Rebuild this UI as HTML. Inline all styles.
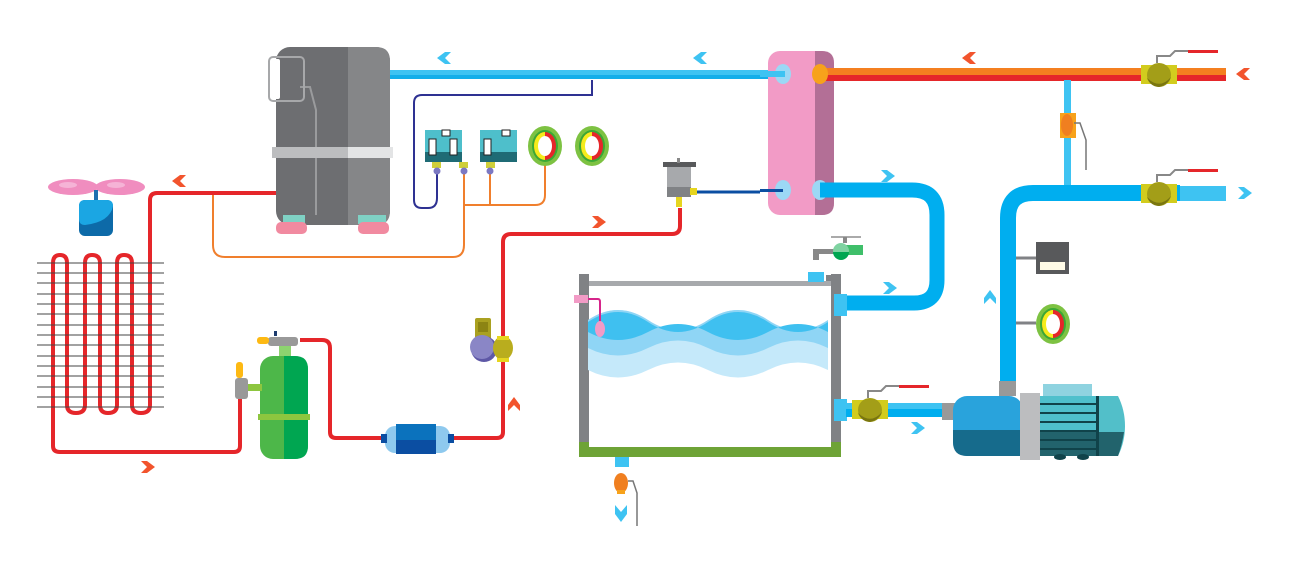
<!DOCTYPE html>
<html><head><meta charset="utf-8"><style>html,body{margin:0;padding:0;background:#fff}svg{display:block}</style></head>
<body>
<svg width="1292" height="576" viewBox="0 0 1292 576" xmlns="http://www.w3.org/2000/svg">
<defs>
<g id="chev"><path d="M0 0 L8 -6 L14 -6 L8 0 L14 6 L8 6 Z"/></g>
</defs>
<!-- top cold pipe -->
<rect x="388" y="70" width="397" height="9" fill="#3ec3f2"/>
<rect x="388" y="75" width="397" height="4" fill="#13aee9"/>
<!-- navy control line -->
<path d="M592 80 V95 H422 Q414 95 414 103 V200 Q414 208 422 208 H428 Q437 208 437 198 V170" fill="none" stroke="#2e3192" stroke-width="2"/>
<!-- orange control lines -->
<path d="M213 193 V245 Q213 257 225 257 H453 Q464 257 464 245 V170" fill="none" stroke="#f07f2d" stroke-width="2"/>
<path d="M464 205 H535 Q545 205 545 195 V165 M490 170 V205" fill="none" stroke="#f07f2d" stroke-width="2"/>
<!-- compressor -->
<rect x="276" y="47" width="114" height="178" rx="14" fill="#6d6e71"/>
<path d="M348 47 H376 Q390 47 390 61 V211 Q390 225 376 225 H348 Z" fill="#858688"/>
<path d="M300 87 H310 L316 110 V215" fill="none" stroke="#9a9b9d" stroke-width="2"/>
<rect x="269" y="57" width="35" height="44" rx="4" fill="none" stroke="#a7a8aa" stroke-width="2"/>
<rect x="271" y="59" width="9" height="40" rx="2" fill="#fff"/>
<rect x="272" y="147" width="76" height="11" fill="#bcbdbf"/>
<rect x="348" y="147" width="45" height="11" fill="#e3e4e5"/>
<rect x="283" y="215" width="22" height="9" fill="#7fd1c4"/><rect x="358" y="215" width="28" height="9" fill="#7fd1c4"/>
<rect x="276" y="222" width="31" height="12" rx="5" fill="#f18aa0"/><rect x="358" y="222" width="31" height="12" rx="5" fill="#f18aa0"/>
<!-- switches -->
<g>
<rect x="425" y="130" width="37" height="32" fill="#4ebfcb"/><rect x="425" y="152" width="37" height="10" fill="#1f6b75"/>
<rect x="429" y="139" width="7" height="16" fill="#fff" stroke="#222" stroke-width="1"/><rect x="450" y="139" width="7" height="16" fill="#fff" stroke="#222" stroke-width="1"/><rect x="442" y="130" width="8" height="6" fill="#fff" stroke="#222" stroke-width="1"/>
<rect x="480" y="130" width="37" height="32" fill="#4ebfcb"/><rect x="480" y="152" width="37" height="10" fill="#1f6b75"/>
<rect x="484" y="139" width="7" height="16" fill="#fff" stroke="#222" stroke-width="1"/><rect x="502" y="130" width="8" height="6" fill="#fff" stroke="#222" stroke-width="1"/>
<rect x="432" y="162" width="9" height="6" fill="#cfcf3a"/><rect x="459" y="162" width="9" height="6" fill="#cfcf3a"/><rect x="486" y="162" width="9" height="6" fill="#cfcf3a"/>
<circle cx="437" cy="171" r="3.5" fill="#7b78c2"/><circle cx="464" cy="171" r="3.5" fill="#7b78c2"/><circle cx="490" cy="171" r="3.5" fill="#7b78c2"/>
</g>
<g id="gauge"><ellipse cx="545" cy="146" rx="17" ry="20" fill="#7dc242"/><ellipse cx="545" cy="146" rx="13" ry="16" fill="#3aa935"/><ellipse cx="545" cy="146" rx="11" ry="14" fill="#e5262a"/><path d="M545 132 A11 14 0 0 0 545 160 Z" fill="#f4ec1c"/><ellipse cx="545" cy="146" rx="7" ry="10" fill="#fff"/></g>
<use href="#gauge" x="47"/>
<!-- red refrigerant lines -->
<g fill="none" stroke="#e5262a" stroke-width="4" stroke-linejoin="round">
<path d="M276 193 H157 Q150 193 150 200 V405 Q150 413 141 413 Q132 413 132 405 V263 Q132 255 124 255 Q117 255 117 263 V405 Q117 413 108 413 Q100 413 100 405 V263 Q100 255 92 255 Q85 255 85 263 V405 Q85 413 76 413 Q67 413 67 405 V263 Q67 255 60 255 Q53 255 53 263 V446 Q53 452 60 452 H234 Q240 452 240 446 V398"/>
<path d="M300 340 H322 Q330 340 330 348 V432 Q330 438 336 438 H390 M448 438 H497 Q503 438 503 432 V242 Q503 234 511 234 H672 Q680 234 680 226 V208"/>
</g>
<!-- fins -->
<g stroke="#444" stroke-width="1">
<path d="M37 263 H164 M37 273 H164 M37 283 H164 M37 294 H164 M37 304 H164 M37 314 H164 M37 325 H164 M37 335 H164 M37 345 H164 M37 356 H164 M37 366 H164 M37 376 H164 M37 387 H164 M37 397 H164 M37 407 H164"/>
</g>
<!-- fan -->
<ellipse cx="73" cy="187" rx="25" ry="8" fill="#f08dbf"/><ellipse cx="120" cy="187" rx="25" ry="8" fill="#f08dbf"/>
<ellipse cx="68" cy="185" rx="9" ry="3" fill="#f5b3d6"/><ellipse cx="116" cy="185" rx="9" ry="3" fill="#f5b3d6"/>
<rect x="94" y="190" width="4" height="12" fill="#1e6fb0"/>
<rect x="79" y="200" width="34" height="36" rx="6" fill="#0d6aa8"/><path d="M85 200 H107 Q113 200 113 206 Q110 222 85 225 Q79 225 79 219 V206 Q79 200 85 200Z" fill="#1ba6e3"/>
<!-- receiver -->
<rect x="279" y="345" width="12" height="12" fill="#8dd36f"/>
<rect x="260" y="356" width="48" height="103" rx="13" fill="#4db749"/>
<path d="M284 356 H295 Q308 356 308 369 V446 Q308 459 295 459 H284Z" fill="#00a651"/>
<rect x="258" y="414" width="52" height="6" fill="#8dc63f"/>
<rect x="248" y="384" width="14" height="7" fill="#8dc63f"/>
<rect x="235" y="378" width="13" height="21" rx="3" fill="#999"/><rect x="236" y="362" width="7" height="16" rx="3" fill="#fdb913"/>
<rect x="268" y="337" width="30" height="9" rx="3" fill="#999"/><rect x="257" y="337" width="12" height="7" rx="3" fill="#fdb913"/><rect x="274" y="331" width="3" height="5" fill="#1d3c6e"/>
<!-- filter drier -->
<rect x="385" y="426" width="65" height="27" rx="10" fill="#8ec9ee"/>
<rect x="396" y="424" width="40" height="30" fill="#0b72bd"/><rect x="396" y="440" width="40" height="14" fill="#0b4ea2"/>
<rect x="381" y="434" width="6" height="9" fill="#0b4ea2"/><rect x="448" y="434" width="6" height="9" fill="#0b4ea2"/>
<!-- expansion valve -->
<rect x="475" y="318" width="16" height="22" rx="2" fill="#aaa120"/><rect x="478" y="322" width="10" height="10" fill="#8c8413"/>
<circle cx="484" cy="349" r="13" fill="#5e58a6"/><circle cx="482" cy="347" r="12" fill="#8a86c6"/>
<ellipse cx="503" cy="348" rx="10" ry="12" fill="#b9ad1e"/><rect x="497" y="336" width="12" height="4" fill="#e6d51f"/><rect x="497" y="358" width="12" height="4" fill="#e6d51f"/>
<!-- sight glass -->
<rect x="663" y="162" width="33" height="5" fill="#58595b"/><rect x="677" y="158" width="3" height="5" fill="#888"/>
<rect x="667" y="167" width="24" height="30" fill="#a7a9ac"/><rect x="667" y="187" width="24" height="10" fill="#808285"/>
<rect x="690" y="188" width="7" height="7" fill="#e6d51f"/><rect x="676" y="197" width="6" height="10" fill="#e6d51f"/>
<path d="M697 192 H760" stroke="#0b4ea2" stroke-width="3"/>
<!-- heat exchanger -->
<rect x="768" y="51" width="66" height="164" rx="12" fill="#f29bc6"/>
<path d="M815 51 H822 Q834 51 834 63 V203 Q834 215 822 215 H815Z" fill="#b36f96"/>
<!-- hot pipe -->
<rect x="820" y="68" width="406" height="7" fill="#f47f20"/><rect x="820" y="75" width="406" height="6" fill="#e5262a"/>
<ellipse cx="783" cy="74" rx="8" ry="10" fill="#9cd8f5"/><rect x="760" y="71" width="25" height="6" fill="#3ec3f2"/>
<ellipse cx="820" cy="74" rx="8" ry="10" fill="#f7a21b"/>
<ellipse cx="783" cy="190" rx="8" ry="10" fill="#9cd8f5"/><rect x="760" y="189" width="23" height="3" fill="#0b4ea2"/>
<ellipse cx="820" cy="190" rx="8" ry="10" fill="#9cd8f5"/>
<!-- lower blue loop -->
<path d="M820 190 H912 Q937 190 937 215 V280 Q937 303 914 303 H846" fill="none" stroke="#00aeef" stroke-width="15"/>
<!-- small vertical branch -->
<rect x="1064" y="80" width="7" height="107" fill="#3ec3f2"/>
<rect x="1060" y="113" width="16" height="25" fill="#f7a21b"/><ellipse cx="1067" cy="125" rx="6" ry="11" fill="#f07f20"/>
<path d="M1074 123 H1080 L1086 140 V170" fill="none" stroke="#777" stroke-width="1.5"/>
<!-- right supply pipe -->
<path d="M1180 193 H1033 Q1008 193 1008 218 V385" fill="none" stroke="#00aeef" stroke-width="16"/>
<rect x="1180" y="186" width="46" height="15" fill="#3ec3f2"/>
<!-- valves -->
<g id="bv"><rect x="1141" y="65" width="36" height="19" fill="#d2cc1e"/><circle cx="1159" cy="75" r="12" fill="#a39e18"/><path d="M1147 78 Q1160 90 1171 77 Q1168 85 1159 87 Q1150 86 1147 78Z" fill="#7a7610"/><path d="M1157 63 V56 H1170 L1175 51 H1218" fill="none" stroke="#888" stroke-width="2"/><rect x="1188" y="50" width="30" height="3" fill="#e5262a"/></g>
<use href="#bv" y="119"/>
<!-- pressure box and gauge -->
<path d="M1016 258 H1040 M1016 323 H1036" stroke="#808285" stroke-width="3"/>
<rect x="1036" y="242" width="33" height="32" fill="#58595b"/><rect x="1040" y="262" width="25" height="8" fill="#fffbe6"/>
<use href="#gauge" x="508" y="178"/>
<!-- tank -->
<rect x="588" y="281" width="244" height="5" fill="#a7a9ac"/>
<rect x="579" y="274" width="10" height="172" fill="#808285"/><rect x="831" y="274" width="10" height="172" fill="#808285"/>
<rect x="808" y="272" width="16" height="10" fill="#3ec3f2"/><rect x="826" y="275" width="6" height="6" fill="#808285"/>
<rect x="579" y="442" width="262" height="15" fill="#6ea336"/><rect x="589" y="442" width="242" height="5" fill="#fff"/>
<!-- waves -->
<path d="M588 320 Q618 300 648 320 T708 320 T768 320 T828 320 V370 Q798 355 768 370 T708 370 T648 370 T588 370Z" fill="#c5e9fa"/>
<path d="M588 320 Q618 300 648 320 T708 320 T768 320 T828 320 V348 Q798 333 768 348 T708 348 T648 348 T588 348Z" fill="#8fd5f5"/>
<path d="M588 322 Q618 302 648 322 T708 322 T768 322 T828 322 V332 Q798 316 768 332 T708 332 T648 332 T588 332Z" fill="#3fc0f0"/>
<!-- float switch -->
<rect x="574" y="295" width="14" height="8" fill="#f29bc6"/>
<path d="M588 299 H598 Q600 299 600 302 V322" fill="none" stroke="#d6258a" stroke-width="2"/>
<ellipse cx="600" cy="329" rx="5" ry="8" fill="#f29bc6"/>
<!-- tank ports -->
<rect x="834" y="294" width="13" height="22" fill="#3ec3f2"/>
<rect x="834" y="399" width="13" height="22" fill="#3ec3f2"/>
<rect x="846" y="403" width="100" height="14" fill="#00aeef"/><rect x="846" y="403" width="100" height="6" fill="#3ec3f2"/>
<rect x="942" y="403" width="14" height="17" fill="#999"/>
<g transform="translate(-289 335)"><rect x="1141" y="65" width="36" height="19" fill="#d2cc1e"/><circle cx="1159" cy="75" r="12" fill="#a39e18"/><path d="M1147 78 Q1160 90 1171 77 Q1168 85 1159 87 Q1150 86 1147 78Z" fill="#7a7610"/><path d="M1157 63 V56 H1170 L1175 51 H1218" fill="none" stroke="#888" stroke-width="2"/><rect x="1188" y="50" width="30" height="3" fill="#e5262a"/></g>
<!-- faucet -->
<rect x="831" y="236" width="30" height="2" fill="#aaa"/><rect x="843" y="237" width="4" height="6" fill="#888"/>
<rect x="813" y="249" width="22" height="5" fill="#888"/><rect x="813" y="249" width="6" height="11" fill="#888"/>
<rect x="845" y="245" width="18" height="10" fill="#3fbf6a"/><circle cx="841" cy="251" r="8" fill="#7fd3a1"/><path d="M833 252 A8 8 0 0 0 849 252Z" fill="#00a651"/>
<!-- drain -->
<rect x="615" y="457" width="14" height="10" fill="#3ec3f2"/>
<ellipse cx="621" cy="483" rx="7" ry="10" fill="#f07f20"/><rect x="617" y="490" width="8" height="4" fill="#f7a21b"/>
<path d="M628 481 H633 L637 493 V526" fill="none" stroke="#777" stroke-width="1.5"/>
<path d="M615 505 L621 512 L627 505 L627 514 L621 522 L615 514Z" fill="#3ec3f2"/>
<!-- pump -->
<rect x="999" y="381" width="17" height="15" fill="#999"/>
<rect x="1043" y="384" width="49" height="20" fill="#8fd3e0"/>
<rect x="953" y="396" width="70" height="60" rx="14" fill="#29a3dc"/><path d="M953 430 H1023 V456 H967 Q953 456 953 442Z" fill="#166b8c"/>
<rect x="1040" y="396" width="60" height="60" fill="#4fc0cc"/><rect x="1040" y="430" width="60" height="26" fill="#22636c"/>
<g stroke="#10434a" stroke-width="2"><path d="M1040 404 H1097 M1040 413 H1097 M1040 422 H1097 M1040 431 H1097 M1040 440 H1097 M1040 449 H1097"/></g>
<rect x="1096" y="396" width="3" height="60" fill="#10434a"/>
<path d="M1099 396 H1118 Q1125 410 1125 426 Q1125 442 1118 456 H1099Z" fill="#52bfc9"/><path d="M1099 432 H1124 Q1122 445 1118 456 H1099Z" fill="#22636c"/>
<ellipse cx="1060" cy="457" rx="6" ry="3" fill="#10434a"/><ellipse cx="1083" cy="457" rx="6" ry="3" fill="#10434a"/>
<rect x="1020" y="393" width="20" height="67" fill="#bcbdbf"/>
<!-- arrows -->
<g fill="#3ec3f2"><use href="#chev" x="437" y="58"/><use href="#chev" x="693" y="58"/>
<use href="#chev" transform="translate(897 288) scale(-1 1)"/><use href="#chev" transform="translate(895 176) scale(-1 1)"/>
<use href="#chev" transform="translate(1252 193) scale(-1 1)"/><use href="#chev" transform="translate(925 428) scale(-1 1)"/>
<use href="#chev" transform="translate(990 290) rotate(90)"/></g>
<g fill="#f2542d"><use href="#chev" x="962" y="58"/><use href="#chev" x="1236" y="74"/><use href="#chev" x="172" y="181"/>
<use href="#chev" transform="translate(606 222) scale(-1 1)"/><use href="#chev" transform="translate(155 467) scale(-1 1)"/>
<use href="#chev" transform="translate(514 397) rotate(90)"/></g>
</svg>
</body></html>
